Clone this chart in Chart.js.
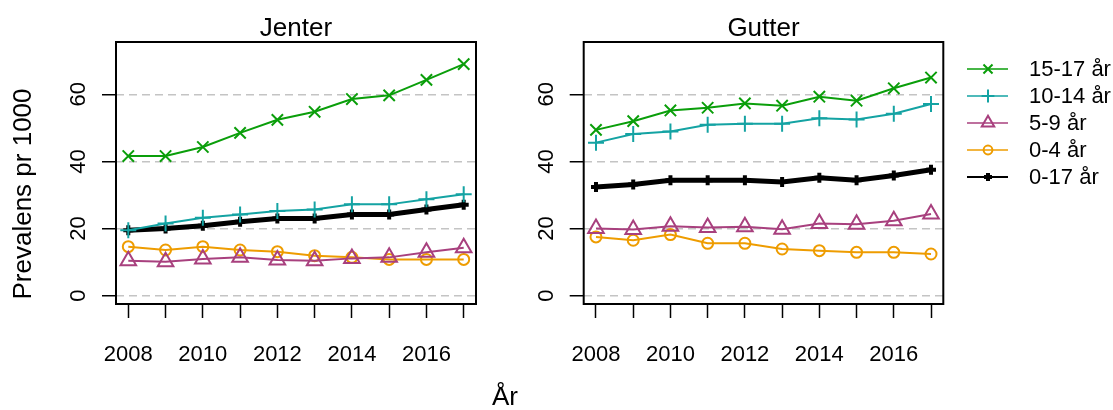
<!DOCTYPE html>
<html>
<head>
<meta charset="utf-8">
<script src="https://cdn.jsdelivr.net/npm/chart.js@4/dist/chart.umd.min.js"></script>
<style>
  body { margin: 0; background: white; }
  #wrap { position: relative; width: 1113px; height: 410px; }
  canvas { position: absolute; top: 0; }
  #chartJenter { left: 0; }
  #chartGutter { left: 470px; }
</style>
</head>
<body>
<div id="wrap">
  <canvas id="chartJenter" width="556" height="410"></canvas>
  <canvas id="chartGutter" width="643" height="410"></canvas>
</div>
<script>
// Datos
const years = [2008, 2009, 2010, 2011, 2012, 2013, 2014, 2015, 2016, 2017];
const yTicks = [0, 20, 40, 60];
const seriesLabels = ["15-17 år", "10-14 år", "5-9 år", "0-4 år", "0-17 år"];

const jenter15_17 = [41.6, 41.6, 44.3, 48.5, 52.4, 54.8, 58.6, 59.7, 64.3, 69.0];
const jenter10_14 = [19.5, 21.5, 23.2, 24.2, 25.2, 25.7, 27.2, 27.2, 28.7, 30.2];
const jenter5_9 = [10.4, 10.1, 10.9, 11.4, 10.6, 10.4, 11.1, 11.4, 12.9, 14.3];
const jenter0_4 = [14.6, 13.6, 14.6, 13.6, 13.1, 11.9, 11.4, 10.8, 10.8, 10.8];
const jenter0_17 = [19.5, 20.0, 20.8, 22.0, 23.0, 23.0, 24.2, 24.2, 25.7, 27.1];

const gutter15_17 = [49.4, 52.0, 55.2, 56.0, 57.3, 56.6, 59.3, 58.1, 61.8, 65.0];
const gutter10_14 = [45.6, 48.2, 48.9, 50.9, 51.2, 51.2, 52.9, 52.5, 54.2, 57.1];
const gutter5_9 = [20.0, 19.7, 20.7, 20.3, 20.5, 19.8, 21.5, 21.3, 22.3, 24.3];
const gutter0_4 = [17.5, 16.5, 18.2, 15.6, 15.6, 13.9, 13.4, 12.9, 12.9, 12.4];
const gutter0_17 = [32.4, 33.1, 34.4, 34.4, 34.4, 33.9, 35.1, 34.4, 35.8, 37.5];

// Estilos de cada serie
const FONT = "'Liberation Sans', Arial, Helvetica, sans-serif";
const colors = ["#0a9e0a", "#14a3a3", "#a8407e", "#ee9c00", "#000000"];
const pointStyles = ["crossRot", "cross", "triangle", "circle", "cross"];
const pointRadii = [8, 8, 9, 5.5, 5];
const lineWidths = [2, 2, 2, 2, 5];
const pointWidths = [2, 2, 2, 2, 4];

// Se construyen los datasets a partir de las listas
function makeDatasets(seriesValues) {
  return seriesValues.map((values, i) => ({
    label: seriesLabels[i],
    data: values.map((v, j) => ({ x: years[j], y: v })),
    borderColor: colors[i],
    backgroundColor: "transparent",
    borderWidth: lineWidths[i],
    pointStyle: pointStyles[i],
    pointRadius: pointRadii[i],
    pointBorderWidth: pointWidths[i],
    pointBorderColor: colors[i],
    pointBackgroundColor: "transparent",
    tension: 0,
  }));
}

function makeScales(axisWidth) {
  return {
    x: {
      type: "linear",
      min: 2007.67,
      max: 2017.33,
      afterBuildTicks: (s) => { s.ticks = years.map((v) => ({ value: v })); },
      afterFit: (s) => { s.height = 106; },
      grid: { drawOnChartArea: false, drawTicks: true, tickLength: 14, tickColor: "#000", tickWidth: 1.5 },
      border: { display: false },
      ticks: {
        autoSkip: false,
        maxRotation: 0,
        padding: 24,
        color: "#000",
        font: { size: 22, family: FONT },
        callback: (v) => (v % 2 === 0 ? String(v) : ""),
      },
    },
    y: {
      type: "linear",
      min: -2.5,
      max: 75.6,
      afterBuildTicks: (s) => { s.ticks = yTicks.map((v) => ({ value: v })); },
      afterFit: (s) => { s.width = axisWidth; },
      grid: { color: "#c4c4c4", lineWidth: 1.5, tickColor: "#000", tickLength: 14, tickWidth: 1.5 },
      border: { display: false, dash: [8, 5] },
      ticks: { display: false },
    },
  };
}

// Marco, título del panel y etiquetas giradas del eje y
const framePlugin = {
  id: "frame",
  afterDraw(chart, args, opts) {
    const { ctx, chartArea: a } = chart;
    ctx.save();
    ctx.strokeStyle = "#000";
    ctx.lineWidth = 2;
    ctx.strokeRect(a.left, a.top, a.right - a.left, a.bottom - a.top);
    ctx.fillStyle = "#000";
    ctx.font = `26px ${FONT}`;
    ctx.textAlign = "center";
    ctx.textBaseline = "alphabetic";
    ctx.fillText(opts.title, (a.left + a.right) / 2, 36);
    const yScale = chart.scales.y;
    ctx.font = `22px ${FONT}`;
    ctx.textBaseline = "middle";
    yScale.ticks.forEach((t) => {
      ctx.save();
      ctx.translate(a.left - 37, yScale.getPixelForValue(t.value));
      ctx.rotate(-Math.PI / 2);
      ctx.fillText(String(t.value), 0, 0);
      ctx.restore();
    });
    ctx.restore();
  },
};

// Títulos de los ejes (solo en el panel izquierdo)
const axisTitlePlugin = {
  id: "axisTitles",
  afterDraw(chart) {
    const ctx = chart.ctx;
    ctx.save();
    ctx.fillStyle = "#000";
    ctx.font = `26px ${FONT}`;
    ctx.textAlign = "center";
    ctx.textBaseline = "middle";
    ctx.fillText("År", 505, 398);
    ctx.translate(24, 194);
    ctx.rotate(-Math.PI / 2);
    ctx.fillText("Prevalens pr 1000", 0, 0);
    ctx.restore();
  },
};

// Leyenda dibujada a mano a la derecha del panel de gutter
const legendPlugin = {
  id: "customLegend",
  afterDraw(chart) {
    const ctx = chart.ctx;
    const x0 = 497;
    ctx.save();
    chart.data.datasets.forEach((ds, i) => {
      const y = 69 + i * 27;
      ctx.strokeStyle = ds.borderColor;
      ctx.fillStyle = "transparent";
      ctx.lineWidth = i === 4 ? 2 : 1.5;
      ctx.beginPath();
      ctx.moveTo(x0, y);
      ctx.lineTo(x0 + 41, y);
      ctx.stroke();
      ctx.lineWidth = ds.pointBorderWidth;
      Chart.helpers.drawPoint(ctx, {
        pointStyle: ds.pointStyle,
        radius: i === 4 ? 4 : ds.pointRadius * 0.8,
        borderWidth: ds.pointBorderWidth,
        rotation: 0,
      }, x0 + 21, y);
      ctx.fillStyle = "#000";
      ctx.font = `22px ${FONT}`;
      ctx.textAlign = "left";
      ctx.textBaseline = "middle";
      ctx.fillText(ds.label, x0 + 62, y + 1);
    });
    ctx.restore();
  },
};

function makeChart(canvasId, seriesValues, title, axisWidth, rightPad, plugins) {
  return new Chart(document.getElementById(canvasId), {
    type: "line",
    data: { datasets: makeDatasets(seriesValues) },
    options: {
      responsive: false,
      animation: false,
      devicePixelRatio: 1,
      layout: { autoPadding: false, padding: { top: 42, left: 0, right: rightPad, bottom: 0 } },
      scales: makeScales(axisWidth),
      plugins: {
        legend: { display: false },
        tooltip: { enabled: false },
        frame: { title: title },
      },
    },
    plugins: [framePlugin].concat(plugins),
  });
}

makeChart("chartJenter",
  [jenter15_17, jenter10_14, jenter5_9, jenter0_4, jenter0_17],
  "Jenter", 116, 80, [axisTitlePlugin]);
makeChart("chartGutter",
  [gutter15_17, gutter10_14, gutter5_9, gutter0_4, gutter0_17],
  "Gutter", 113.7, 169.7, [legendPlugin]);
</script>
</body>
</html>
